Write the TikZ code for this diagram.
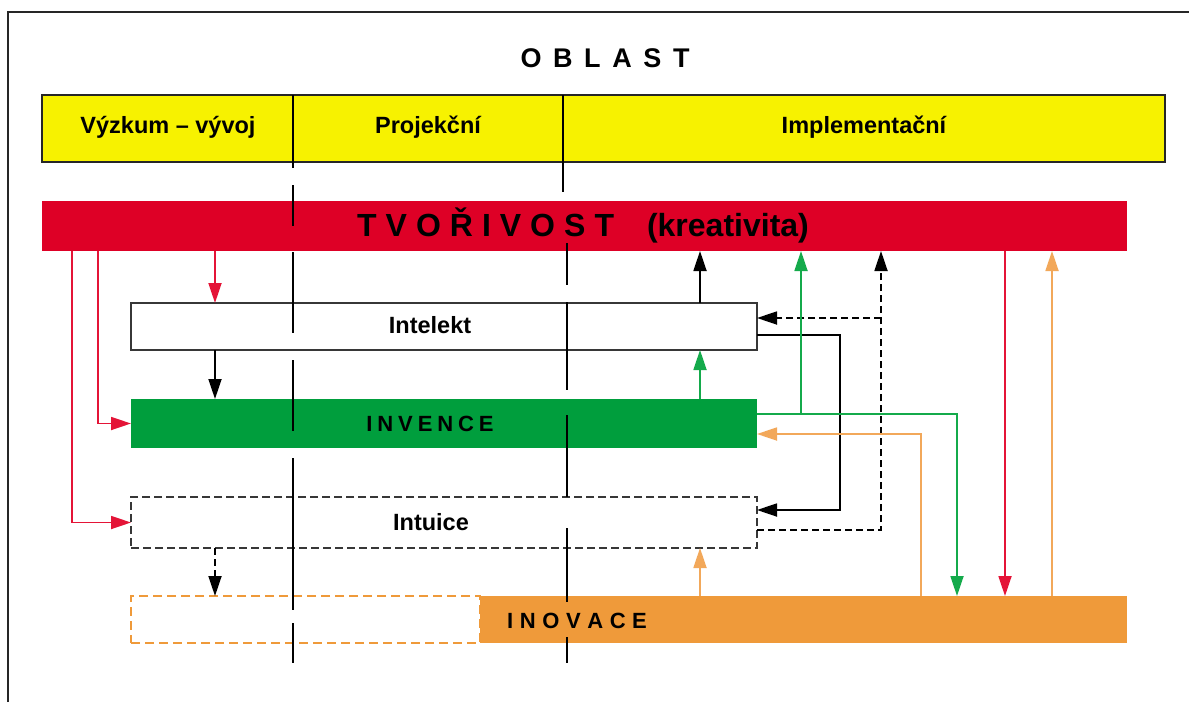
\documentclass[tikz,border=0pt]{standalone}
\usepackage{fontspec}
\setmainfont{Liberation Sans}
\usetikzlibrary{arrows.meta}
\definecolor{cyel}{RGB}{247,242,0}
\definecolor{cred}{RGB}{222,0,38}
\definecolor{cgrn}{RGB}{0,158,61}
\definecolor{corg}{RGB}{239,154,58}
\definecolor{agrn}{RGB}{20,170,75}
\definecolor{ared}{RGB}{228,20,55}
\definecolor{aorg}{RGB}{242,168,90}
\definecolor{cbord}{RGB}{55,55,55}
\newcommand{\gO}{\hspace{11.6pt}}
\newcommand{\gT}{\hspace{9pt}}
\newcommand{\gV}{\hspace{4.9pt}}
\newcommand{\gN}{\hspace{6.6pt}}
\begin{document}
\begin{tikzpicture}[x=1pt,y=-1pt,
  box/.style={rectangle, inner sep=0pt, outer sep=0pt, anchor=north west},
  lbl/.style={anchor=base, inner sep=0pt, text=black, font=\bfseries\fontsize{23.5}{26}\selectfont},
  arr/.style={line width=1.8pt, -{Triangle[length=20pt,width=13pt]}},
  dasharr/.style={arr, dash pattern=on 7pt off 4pt},
  divl/.style={line width=1.8pt, black}]
\useasboundingbox (0,0) rectangle (1189,702);
\fill[white] (0,0) rectangle (1189,702);
% frame
\draw[line width=1.5pt, black!85] (8,702) -- (8,12) -- (1189,12);
% title
\node[lbl, font=\bfseries\fontsize{27}{30}\selectfont] (title) at (605,67) {O\gO B\gO L\gO A\gO S\gO T};
% yellow bar
\node[box, fill=cyel, draw=black!85, line width=1.8pt, minimum width=1123pt, minimum height=67pt] (yb) at (42,95) {};
\node[lbl] (c1) at (168,133) {Výzkum – vývoj};
\node[lbl] (c2) at (428,133) {Projekční};
\node[lbl] (c3) at (864,133) {Implementační};
% red bar
\node[box, fill=cred, minimum width=1085pt, minimum height=50pt] (tv) at (42,201) {};
\node[lbl, font=\bfseries\fontsize{32}{34}\selectfont] (tvt) at (583,236) {T\gT V\gT O\gT Ř\gT I\gT V\gT O\gT S\gT T\hspace{33pt}(kreativita)};
% intelekt
\node[box, fill=white, draw=cbord, line width=1.8pt, minimum width=626pt, minimum height=47pt] (intel) at (131,303) {};
\node[lbl] (intelt) at (430,333) {Intelekt};
% invence
\node[box, fill=cgrn, minimum width=626pt, minimum height=49pt] (inv) at (131,399) {};
\node[lbl, font=\bfseries\fontsize{22}{24}\selectfont] (invt) at (430,431) {I\gV N\gV V\gV E\gV N\gV C\gV E};
% intuice
\node[box, fill=white, draw=cbord, line width=1.8pt, dash pattern=on 8pt off 4pt, minimum width=626pt, minimum height=51pt] (intu) at (131,497) {};
\node[lbl] (intut) at (431,530) {Intuice};
% inovace
\node[box, draw=corg, line width=1.2pt, dash pattern=on 9pt off 5pt, minimum width=349pt, minimum height=47pt] (inovd) at (131,596) {};
\node[box, fill=corg, minimum width=647pt, minimum height=47pt] (inov) at (480,596) {};
\node[lbl, font=\bfseries\fontsize{22}{24}\selectfont] (inovt) at (577,628) {I\gN N\gN O\gN V\gN A\gN C\gN E};
% left arrows
\draw[arr, ared] (72,0 |- tv.south) |- (intu.west);
\draw[arr, ared] (98,0 |- tv.south) |- (inv.west);
\draw[arr, ared] (215,0 |- tv.south) -- (215,0 |- intel.north);
\draw[arr, black] (215,0 |- intel.south) -- (215,0 |- inv.north);
\draw[dasharr, black] (215,0 |- intu.south) -- (215,0 |- inovd.north);
% middle up arrows
\draw[arr, black] (700,0 |- intel.north) -- (700,0 |- tv.south);
\draw[arr, agrn] (700,0 |- inv.north) -- (700,0 |- intel.south);
\draw[arr, aorg] (700,0 |- inov.north) -- (700,0 |- intu.south);
% right loops
\draw[arr, black] (intel.east |- 0,335) -- (840,335) -- (840,510) -- (intu.east |- 0,510);
\draw[dasharr, black] (intu.east |- 0,530) -- (881,530) -- (881,0 |- tv.south);
\draw[dasharr, black] (881,318) -- (intel.east |- 0,318);
\draw[arr, aorg] (921,0 |- inov.north) -- (921,434) -- (inv.east |- 0,434);
\draw[arr, agrn] (inv.east |- 0,414) -- (957,414) -- (957,0 |- inov.north);
\draw[arr, agrn] (801,414) -- (801,0 |- tv.south);
\draw[arr, ared] (1005,0 |- tv.south) -- (1005,0 |- inov.north);
\draw[arr, aorg] (1052,0 |- inov.north) -- (1052,0 |- tv.south);
% column dividers
\draw[divl] (293,95)--(293,168) (293,185)--(293,226) (293,252)--(293,333) (293,360)--(293,431) (293,458)--(293,610) (293,623)--(293,663);
\draw[divl] (563,95)--(563,192) (567,243)--(567,285) (567,302)--(567,390) (567,415)--(567,497) (567,528)--(567,602) (567,637)--(567,663);
\end{tikzpicture}
\end{document}
